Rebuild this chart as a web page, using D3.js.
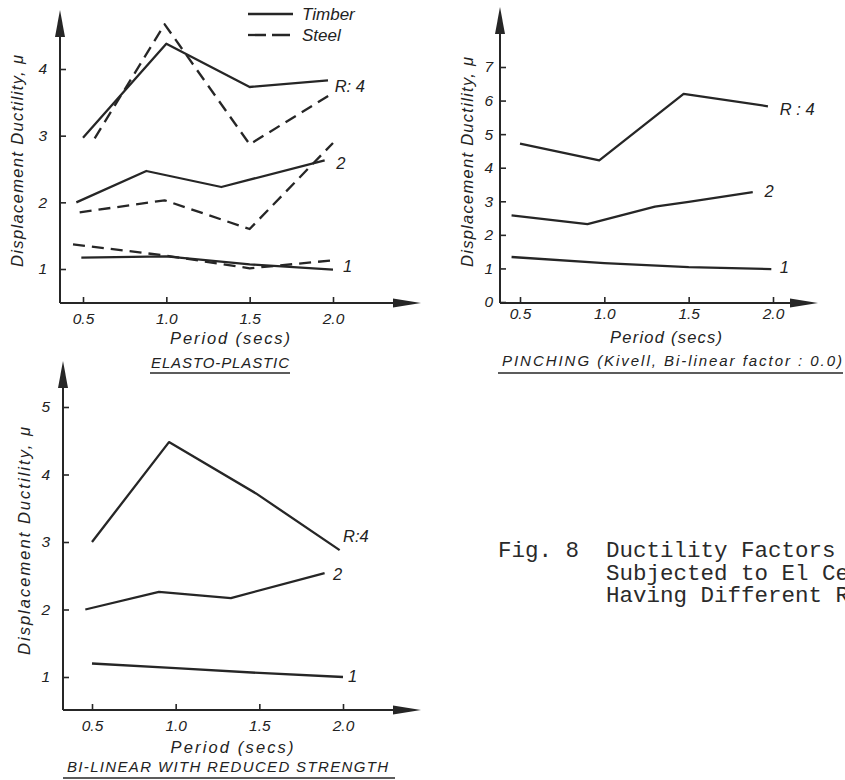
<!DOCTYPE html>
<html>
<head>
<meta charset="utf-8">
<script src="https://cdn.jsdelivr.net/npm/d3@7"></script>
<style>
    body { margin: 0; background: #fff; }
    svg { display: block; }
    .line { fill: none; stroke: #262626; stroke-width: 2.3; stroke-linejoin: round; }
    .axisline { stroke: #262626; stroke-width: 2; fill: none; }
    .lbl { font-family: "Liberation Sans", Arial, sans-serif; font-style: italic; fill: #222; }
    .tick line { stroke: #262626; stroke-width: 1.6; }
    .tick text { font-family: "Liberation Sans", Arial, sans-serif; font-style: italic; font-size: 15.5px; fill: #222; }
    .caption { font-family: "Liberation Mono", "Courier New", monospace; font-size: 22.5px; fill: #2a2a2a; }
</style>
</head>
<body>
<div id="viz"></div>
<script>
// tick values
const periodTicks = [0.5, 1.0, 1.5, 2.0];
const elastoTicks = [1, 2, 3, 4];
const pinchTicks = [0, 1, 2, 3, 4, 5, 6, 7];
const bilinTicks = [1, 2, 3, 4, 5];

// ELASTO-PLASTIC  [period, ductility]
const elastoTimberR4 = [[0.5, 2.97], [1.0, 4.38], [1.5, 3.73], [1.97, 3.83]];
const elastoSteelR4 = [[0.57, 2.96], [0.99, 4.67], [1.5, 2.87], [2.0, 3.64]];
const elastoTimberR2 = [[0.46, 2.0], [0.88, 2.47], [1.33, 2.23], [1.95, 2.63]];
const elastoSteelR2 = [[0.48, 1.85], [0.99, 2.03], [1.5, 1.6], [2.0, 2.89]];
const elastoTimberR1 = [[0.49, 1.17], [1.0, 1.19], [1.5, 1.07], [2.0, 0.99]];
const elastoSteelR1 = [[0.44, 1.37], [1.0, 1.2], [1.5, 1.01], [2.0, 1.13]];

// PINCHING
const pinchR4 = [[0.5, 4.72], [0.97, 4.22], [1.47, 6.2], [1.97, 5.83]];
const pinchR2 = [[0.45, 2.58], [0.9, 2.32], [1.3, 2.84], [1.5, 2.98], [1.88, 3.27]];
const pinchR1 = [[0.45, 1.34], [1.0, 1.16], [1.5, 1.04], [1.99, 0.98]];

// BI-LINEAR WITH REDUCED STRENGTH
const bilinR4 = [[0.5, 3.0], [0.96, 4.48], [1.48, 3.72], [1.98, 2.88]];
const bilinR2 = [[0.46, 2.0], [0.9, 2.26], [1.33, 2.17], [1.89, 2.54]];
const bilinR1 = [[0.5, 1.2], [1.0, 1.13], [1.5, 1.06], [2.0, 1.0]];

// caption, cut at the page edge as in the scan
const captionLines = [
    "Fig. 8  Ductility Factors",
    "        Subjected to El Centro",
    "        Having Different R-Factors"
];

const width = 845, height = 780;

let svg = d3.select("#viz")
    .append("svg")
    .attr("width", width)
    .attr("height", height);

// one panel: axes with arrows, ticks, series, labels
function drawPanel(cfg) {
    let x = d3.scaleLinear().domain([0.5, 2.0]).range(cfg.xRange);
    let y = d3.scaleLinear().domain(cfg.yDomain).range(cfg.yRange);
    let g = svg.append("g");

    // axis lines
    g.append("line").attr("class", "axisline")
        .attr("x1", cfg.ox).attr("y1", cfg.oy).attr("x2", cfg.ox).attr("y2", cfg.top + 20);
    g.append("line").attr("class", "axisline")
        .attr("x1", cfg.ox).attr("y1", cfg.oy).attr("x2", cfg.right - 20).attr("y2", cfg.oy);
    // arrow heads
    g.append("path").attr("fill", "#262626")
        .attr("d", `M${cfg.ox},${cfg.top} L${cfg.ox - 5},${cfg.top + 27} L${cfg.ox + 5},${cfg.top + 27} Z`);
    g.append("path").attr("fill", "#262626")
        .attr("d", `M${cfg.right},${cfg.oy} L${cfg.right - 28},${cfg.oy - 4.5} L${cfg.right - 28},${cfg.oy + 4.5} Z`);

    // x ticks
    let xa = g.append("g")
        .attr("transform", "translate(0," + cfg.oy + ")")
        .call(d3.axisBottom(x).tickValues(periodTicks).tickSize(-6)
            .tickPadding(cfg.xPad).tickFormat(d3.format(".1f")));
    xa.select(".domain").remove();

    // y ticks
    let ya = g.append("g")
        .attr("transform", "translate(" + cfg.ox + ",0)")
        .call(d3.axisLeft(y).tickValues(cfg.yTicks).tickSize(-6)
            .tickPadding(cfg.yPad).tickFormat(d3.format("d")));
    ya.select(".domain").remove();

    let line = d3.line().x(d => x(d[0])).y(d => y(d[1]));
    cfg.series.forEach(s => {
        g.append("path")
            .attr("class", "line")
            .attr("stroke-dasharray", s.dashed ? "12,7" : null)
            .attr("d", line(s.values));
    });

    cfg.labels.forEach(l => {
        g.append("text").attr("class", "lbl")
            .attr("x", x(l.at[0])).attr("y", y(l.at[1]))
            .attr("font-size", 16.5)
            .text(l.text);
    });

    // y title
    g.append("text").attr("class", "lbl")
        .attr("transform", `translate(${cfg.titleX},${cfg.titleY}) rotate(-90)`)
        .attr("text-anchor", "middle")
        .attr("font-size", 16.5)
        .attr("textLength", cfg.titleLen)
        .attr("lengthAdjust", "spacing")
        .text("Displacement Ductility, \u03bc");

    // x title and underlined caption
    g.append("text").attr("class", "lbl")
        .attr("x", cfg.periodX).attr("y", cfg.periodY)
        .attr("text-anchor", "middle").attr("font-size", 16.5)
        .attr("textLength", cfg.periodLen).attr("lengthAdjust", "spacing")
        .text("Period (secs)");
    g.append("text").attr("class", "lbl")
        .attr("x", cfg.nameX).attr("y", cfg.nameY)
        .attr("font-size", 15)
        .attr("textLength", cfg.nameLen).attr("lengthAdjust", "spacing")
        .text(cfg.name);
    g.append("line")
        .attr("stroke", "#262626").attr("stroke-width", 1.6)
        .attr("x1", cfg.ulX[0]).attr("x2", cfg.ulX[1])
        .attr("y1", cfg.ulY).attr("y2", cfg.ulY);
}

drawPanel({
    ox: 60, oy: 303, top: 10, right: 421,
    xRange: [83, 333], yDomain: [1, 4], yRange: [269, 69], yTicks: elastoTicks,
    xPad: 10, yPad: 13,
    series: [
        { values: elastoTimberR4 }, { values: elastoSteelR4, dashed: true },
        { values: elastoTimberR2 }, { values: elastoSteelR2, dashed: true },
        { values: elastoTimberR1 }, { values: elastoSteelR1, dashed: true }
    ],
    labels: [
        { text: "R: 4", at: [2.01, 3.65] },
        { text: "2", at: [2.02, 2.5] },
        { text: "1", at: [2.06, 0.95] }
    ],
    titleX: 23, titleY: 161, titleLen: 212,
    periodX: 230, periodY: 344, periodLen: 120,
    name: "ELASTO-PLASTIC", nameX: 151, nameY: 368, nameLen: 138,
    ulX: [150, 290], ulY: 373
});

drawPanel({
    ox: 500, oy: 303, top: 7, right: 818,
    xRange: [520, 773], yDomain: [0, 7], yRange: [302, 67], yTicks: pinchTicks,
    xPad: 5, yPad: 7,
    series: [{ values: pinchR4 }, { values: pinchR2 }, { values: pinchR1 }],
    labels: [
        { text: "R : 4", at: [2.04, 5.57] },
        { text: "2", at: [1.95, 3.13] },
        { text: "1", at: [2.04, 0.86] }
    ],
    titleX: 473, titleY: 162, titleLen: 210,
    periodX: 666, periodY: 343, periodLen: 112,
    name: "PINCHING  (Kivell, Bi-linear factor : 0.0)", nameX: 502, nameY: 366, nameLen: 340,
    ulX: [498, 843], ulY: 373
});

drawPanel({
    ox: 63, oy: 710, top: 361, right: 421,
    xRange: [92, 343], yDomain: [1, 5], yRange: [677, 407], yTicks: bilinTicks,
    xPad: 10, yPad: 13,
    series: [{ values: bilinR4 }, { values: bilinR2 }, { values: bilinR1 }],
    labels: [
        { text: "R:4", at: [2.0, 3.0] },
        { text: "2", at: [1.94, 2.44] },
        { text: "1", at: [2.03, 0.93] }
    ],
    titleX: 30, titleY: 541, titleLen: 228,
    periodX: 232, periodY: 753, periodLen: 123,
    name: "BI-LINEAR  WITH  REDUCED  STRENGTH", nameX: 67, nameY: 772, nameLen: 321,
    ulX: [63, 395], ulY: 778
});

// legend (timber / steel)
let legend = svg.append("g");
[["Timber", false, 14], ["Steel", true, 35]].forEach(([name, dashed, ly]) => {
    legend.append("line").attr("class", "line")
        .attr("x1", 248).attr("x2", 293).attr("y1", ly).attr("y2", ly)
        .attr("stroke-dasharray", dashed ? "18,6" : null);
    legend.append("text").attr("class", "lbl")
        .attr("x", 302).attr("y", ly + 6).attr("font-size", 17)
        .text(name);
});

// figure caption
captionLines.forEach((t, i) => {
    svg.append("text").attr("class", "caption")
        .attr("x", 498).attr("y", 557 + i * 22.5)
        .attr("xml:space", "preserve")
        .style("white-space", "pre")
        .text(t);
});
</script>
</body>
</html>
